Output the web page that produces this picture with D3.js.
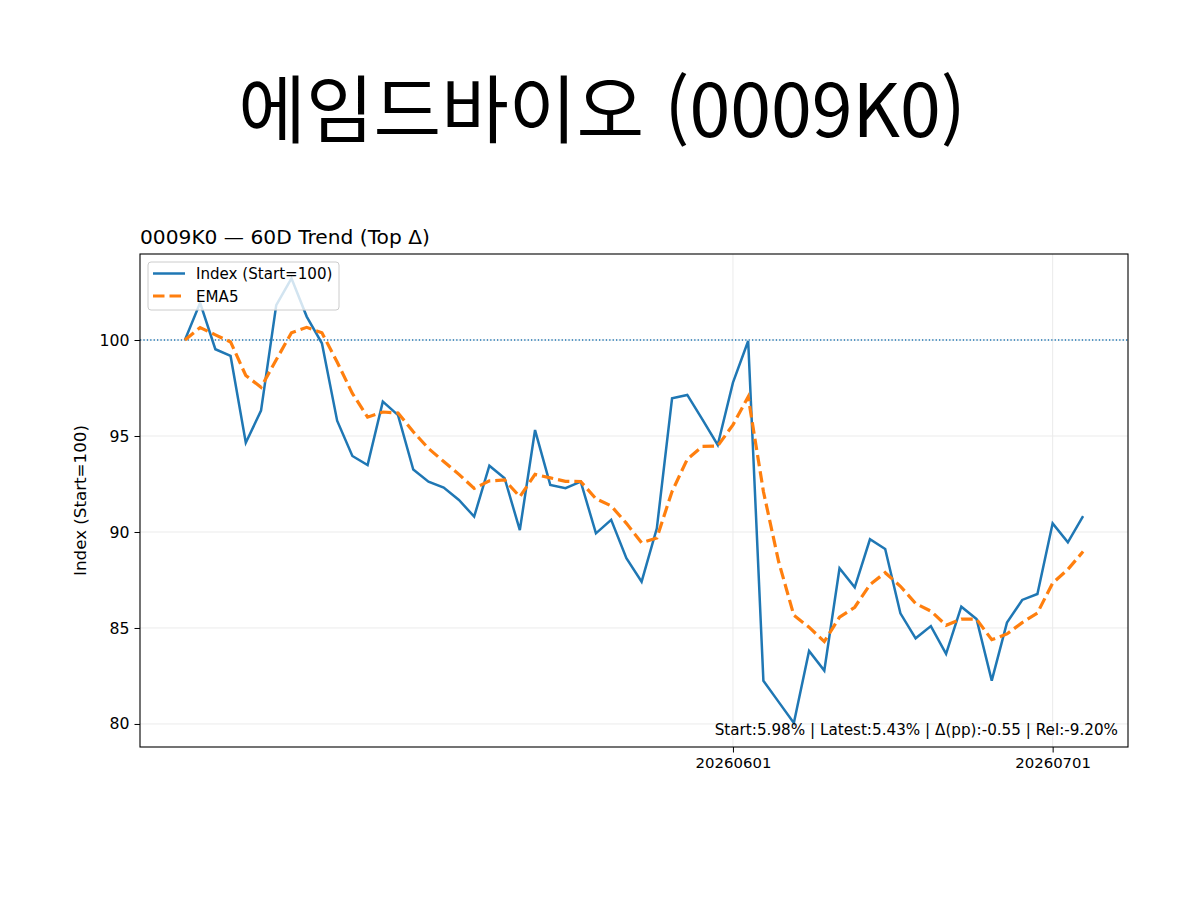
<!DOCTYPE html>
<html lang="ko">
<head>
<meta charset="UTF-8">
<title>에임드바이오 (0009K0)</title>
<script src="https://cdn.jsdelivr.net/npm/d3@7"></script>
<style>
    body {margin: 0; background: #fff;}
    text {font-family: "DejaVu Sans", sans-serif; fill: #000;}
    .grid line {stroke: #ebebeb; stroke-width: 1;}
    .axis path, .axis line {stroke: #000;}
</style>
</head>
<body>
<script>
    const dates = [
        "20260407","20260408","20260409","20260410","20260413","20260414","20260415","20260416","20260417","20260420",
        "20260421","20260422","20260423","20260424","20260427","20260428","20260429","20260430","20260504","20260506",
        "20260507","20260508","20260511","20260512","20260513","20260514","20260515","20260518","20260519","20260520",
        "20260521","20260522","20260526","20260527","20260528","20260529","20260601","20260602","20260604","20260605",
        "20260608","20260609","20260610","20260611","20260612","20260615","20260616","20260617","20260618","20260619",
        "20260622","20260623","20260624","20260625","20260626","20260629","20260630","20260701","20260702","20260703"
    ];
    const indexValues = [
        100.00, 101.94, 99.52, 99.17, 94.65, 96.32, 101.82, 103.21, 101.22, 99.83,
        95.80, 93.96, 93.49, 96.79, 96.09, 93.25, 92.62, 92.31, 91.67, 90.80,
        93.45, 92.80, 90.10, 95.31, 92.45, 92.28, 92.62, 89.93, 90.63, 88.63,
        87.41, 90.19, 96.96, 97.14, 95.85, 94.53, 97.78, 99.95, 82.25, 81.15,
        80.05, 83.80, 82.78, 88.11, 87.12, 89.62, 89.11, 85.76, 84.46, 85.10,
        83.65, 86.11, 85.47, 82.26, 85.28, 86.46, 86.77, 90.45, 89.46, 90.83
    ];
    const ema5Values = [
        100.00, 100.65, 100.27, 99.90, 98.15, 97.54, 98.97, 100.38, 100.66, 100.38,
        98.85, 97.22, 95.98, 96.25, 96.20, 95.22, 94.35, 93.67, 93.00, 92.27,
        92.66, 92.71, 91.84, 93.00, 92.82, 92.64, 92.63, 91.73, 91.36, 90.45,
        89.44, 89.69, 92.11, 93.79, 94.46, 94.48, 95.58, 97.04, 92.11, 88.46,
        85.66, 85.04, 84.29, 85.56, 86.08, 87.26, 87.88, 87.17, 86.27, 85.88,
        85.14, 85.46, 85.46, 84.39, 84.69, 85.28, 85.78, 87.34, 88.05, 88.98
    ];
    const xTickDates = ["20260601", "20260701"];
    const yTicks = [80, 85, 90, 95, 100];
    const baseLine = 100;
    const title = "에임드바이오 (0009K0)";
    const subtitle = "0009K0 — 60D Trend (Top Δ)";
    const note = "Start:5.98% | Latest:5.43% | Δ(pp):-0.55 | Rel:-9.20%";

    const width = 1200, height = 900;
    const m = {left: 140, top: 254, right: 72, bottom: 153};
    const w = width - m.left - m.right;
    const h = height - m.top - m.bottom;

    const svg = d3.select("body").append("svg")
            .attr("width", width).attr("height", height);

    svg.append("text")
            .attr("x", 602).attr("y", 137)
            .attr("text-anchor", "middle")
            .style("font-family", '"Noto Sans CJK KR", sans-serif')
            .style("font-size", "73.5px")
            .text(title);

    svg.append("text")
            .attr("x", m.left).attr("y", 244)
            .style("font-size", "20.2px")
            .text(subtitle);

    const x = d3.scaleLinear().domain([-2.95, dates.length - 1 + 2.95]).range([0, w]);
    const y = d3.scaleLinear().domain([78.8, 104.48]).range([h, 0]);

    const g = svg.append("g").attr("transform", `translate(${m.left},${m.top})`);

    const xTickIdx = xTickDates.map(d => dates.indexOf(d));

    // grid
    g.append("g").attr("class", "grid")
            .selectAll("line.h").data(yTicks).enter().append("line")
            .attr("x1", 0).attr("x2", w)
            .attr("y1", d => y(d)).attr("y2", d => y(d));
    g.append("g").attr("class", "grid")
            .selectAll("line.v").data(xTickIdx).enter().append("line")
            .attr("y1", 0).attr("y2", h)
            .attr("x1", d => x(d)).attr("x2", d => x(d));

    // baseline at 100
    g.append("line")
            .attr("x1", 0).attr("x2", w)
            .attr("y1", y(baseLine)).attr("y2", y(baseLine))
            .style("stroke", "#1f77b4")
            .style("stroke-width", 1.3)
            .style("stroke-dasharray", "1.3,2.1");

    const line = d3.line().x((d, i) => x(i)).y(d => y(d));

    g.append("path").datum(indexValues)
            .attr("d", line)
            .style("fill", "none")
            .style("stroke", "#1f77b4")
            .style("stroke-width", 2.5)
            .style("stroke-linejoin", "miter");

    g.append("path").datum(ema5Values)
            .attr("d", line)
            .style("fill", "none")
            .style("stroke", "#ff7f0e")
            .style("stroke-width", 3.2)
            .style("stroke-dasharray", "11.5,5");

    // axes
    const yAxis = d3.axisLeft(y).tickValues(yTicks).tickSize(5.5).tickPadding(5);
    g.append("g").attr("class", "axis")
            .call(yAxis)
            .call(s => s.select(".domain").remove())
            .selectAll("text").style("font-size", "15.7px").style("font-family", '"DejaVu Sans", sans-serif');

    const xAxis = d3.axisBottom(x).tickValues(xTickIdx)
            .tickFormat(i => dates[i]).tickSize(5.5).tickPadding(5);
    g.append("g").attr("class", "axis")
            .attr("transform", `translate(0,${h})`)
            .call(xAxis)
            .call(s => s.select(".domain").remove())
            .selectAll("text").style("font-size", "14.9px").style("font-family", '"DejaVu Sans", sans-serif');

    g.append("rect")
            .attr("width", w).attr("height", h)
            .style("fill", "none").style("stroke", "#000").style("stroke-width", 1.1);

    svg.append("text")
            .attr("transform", `translate(86,${m.top + h / 2}) rotate(-90)`)
            .attr("text-anchor", "middle")
            .style("font-size", "16.7px")
            .text("Index (Start=100)");

    g.append("text")
            .attr("x", w - 10).attr("y", h - 12)
            .attr("text-anchor", "end")
            .style("font-size", "15.2px")
            .text(note);

    // legend
    const leg = g.append("g").attr("transform", "translate(8,8)");
    leg.append("rect")
            .attr("width", 191).attr("height", 48).attr("rx", 3)
            .style("fill", "#fff").style("fill-opacity", 0.8)
            .style("stroke", "#cccccc").style("stroke-width", 1);
    const items = [
        {label: "Index (Start=100)", color: "#1f77b4", dash: null, sw: 2.5},
        {label: "EMA5", color: "#ff7f0e", dash: "11.5,5", sw: 3.2}
    ];
    const it = leg.selectAll("g.item").data(items).enter().append("g")
            .attr("class", "item")
            .attr("transform", (d, i) => `translate(0,${11.5 + i * 22.5})`);
    it.append("line")
            .attr("x1", 5).attr("x2", 37)
            .style("stroke", d => d.color)
            .style("stroke-width", d => d.sw)
            .style("stroke-dasharray", d => d.dash);
    it.append("text")
            .attr("x", 48).attr("y", 5.5)
            .style("font-size", "15.1px")
            .text(d => d.label);
</script>
</body>
</html>
